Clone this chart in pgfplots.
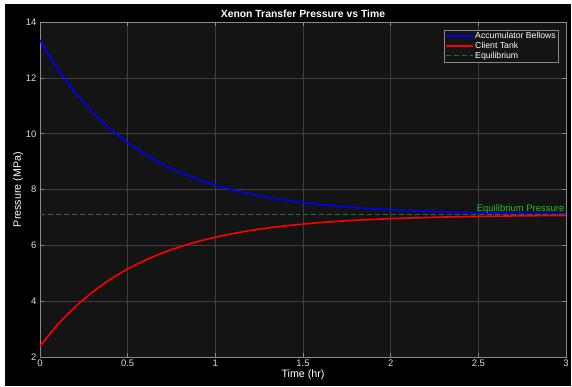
\documentclass[border=0pt]{standalone}
\usepackage{pgfplots}
\pgfplotsset{compat=1.18}
\usepackage{fontspec}
\setmainfont{Liberation Sans}
\definecolor{axbg}{HTML}{141414}
\definecolor{gridgray}{HTML}{3E3E3E}
\definecolor{axisgray}{HTML}{8A8A8A}
\definecolor{ticktext}{HTML}{DCDCDC}
\definecolor{eqgreen}{HTML}{2A702A}
\definecolor{labgreen}{HTML}{20C020}
\definecolor{mblue}{HTML}{0000FF}
\definecolor{mred}{HTML}{FF0000}
\begin{document}
\begin{tikzpicture}[x=1pt,y=1pt]
\fill[white] (-40,-29) rectangle (532,358);
\fill[black] (-35,-29) rectangle (532,354);
\begin{axis}[at={(0,0)}, anchor=south west, scale only axis,
  width=527pt, height=336pt,
  xmin=0, xmax=3, ymin=2, ymax=14,
  xtick={0,0.5,1,1.5,2,2.5,3}, ytick={2,4,6,8,10,12,14},
  axis background/.style={fill=axbg},
  axis line style={draw=axisgray, line width=0.6pt},
  grid=major, major grid style={draw=gridgray, line width=0.6pt},
  tick style={draw=axisgray, line width=0.6pt}, tick align=inside,
  major tick length=4pt,
  xtick pos=both, ytick pos=both, xticklabel pos=lower, yticklabel pos=left,
  /pgf/number format/assume math mode=true,
  ticklabel style={font=\fontsize{9.5}{11}\selectfont, text=ticktext},
  xticklabel style={yshift=1pt},
  xlabel={Time (hr)}, ylabel={Pressure (MPa)},
  label style={font=\fontsize{10.7}{12}\selectfont, text=white},
  xlabel style={yshift=4pt},
  ylabel style={yshift=-4pt},
  title={Xenon Transfer Pressure vs Time},
  title style={font=\bfseries\fontsize{10.4}{12}\selectfont, text=white, yshift=-5pt},
  legend style={at={(0.985,0.977)}, anchor=north east, fill=axbg, draw=axisgray,
    text=white, font=\fontsize{8.7}{10}\selectfont, inner sep=1pt, row sep=0pt,
    nodes={inner sep=1.1pt, fill=none}},
  legend cell align=left,
  legend image code/.code={\draw[#1] (0pt,0pt) -- (27pt,0pt);},
]
\addplot[mblue, line width=1.6pt, smooth] coordinates {
(0,13.350) (0.1,12.336) (0.2,11.487) (0.3,10.775) (0.4,10.179) (0.5,9.680)
(0.6,9.261) (0.7,8.911) (0.8,8.617) (0.9,8.371) (1.0,8.165) (1.1,7.992)
(1.2,7.847) (1.3,7.726) (1.4,7.625) (1.5,7.540) (1.6,7.468) (1.7,7.408)
(1.8,7.358) (1.9,7.317) (2.0,7.281) (2.1,7.252) (2.2,7.227) (2.3,7.207)
(2.4,7.189) (2.5,7.175) (2.6,7.163) (2.7,7.153) (2.8,7.144) (2.9,7.137) (3.0,7.131)};
\addlegendentry{Accumulator Bellows}
\addplot[mred, line width=1.6pt, smooth] coordinates {
(0,2.400) (0.1,3.162) (0.2,3.801) (0.3,4.336) (0.4,4.785) (0.5,5.160)
(0.6,5.475) (0.7,5.738) (0.8,5.959) (0.9,6.144) (1.0,6.299) (1.1,6.429)
(1.2,6.538) (1.3,6.629) (1.4,6.706) (1.5,6.769) (1.6,6.823) (1.7,6.868)
(1.8,6.906) (1.9,6.937) (2.0,6.964) (2.1,6.986) (2.2,7.004) (2.3,7.020)
(2.4,7.033) (2.5,7.044) (2.6,7.053) (2.7,7.060) (2.8,7.067) (2.9,7.072) (3.0,7.077)};
\addlegendentry{Client Tank}
\addplot[eqgreen, line width=0.7pt, dash pattern=on 5pt off 3pt] coordinates {(0,7.1) (3,7.1)};
\addlegendentry{Equilibrium}
\node[anchor=south east, text=labgreen, font=\fontsize{9.5}{11}\selectfont, inner sep=1.5pt] at (axis cs:3,7.1) {Equilibrium Pressure};
\end{axis}
\end{tikzpicture}
\end{document}
